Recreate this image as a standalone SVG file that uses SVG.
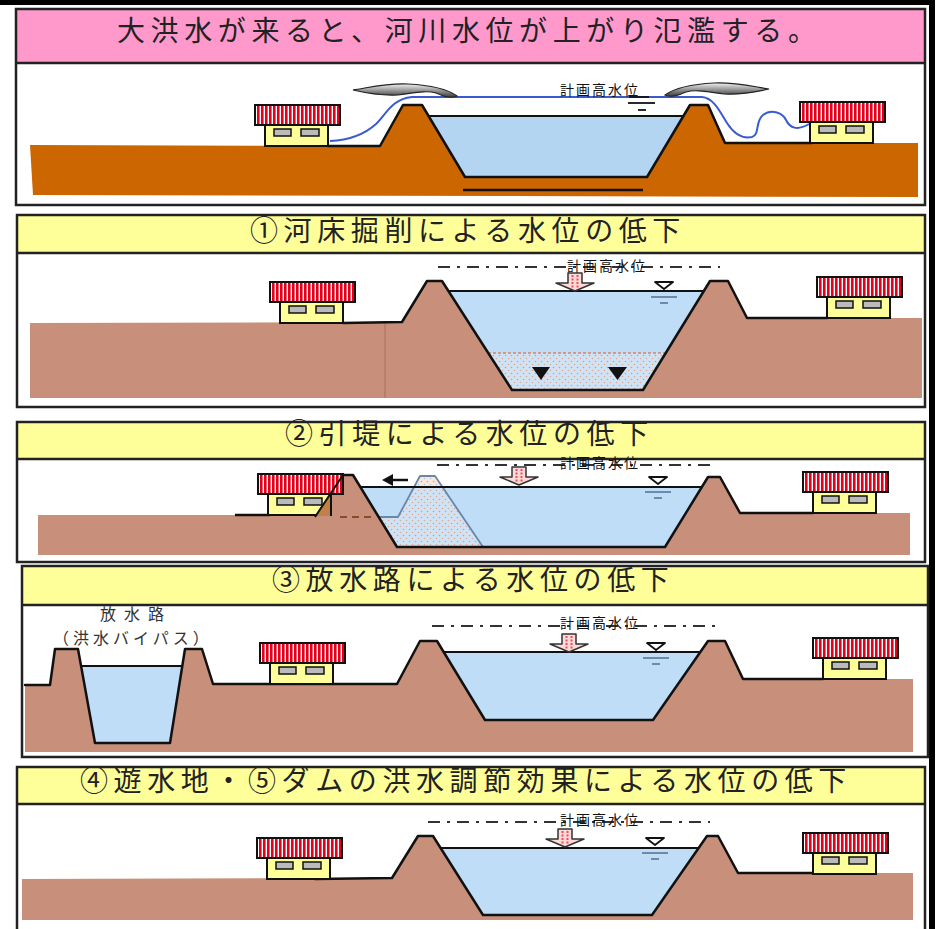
<svg xmlns="http://www.w3.org/2000/svg" width="938" height="929" viewBox="0 0 938 929">
<defs>
<style>
.frame{fill:none;stroke:#222;stroke-width:2.5}
.hdr-pink{fill:#FF99CC}
.hdr-yel{fill:#FFFF99}
.sep{stroke:#222;stroke-width:2.5}
.hdr-text{font-family:"Noto Sans CJK JP","Noto Sans CJK SC",sans-serif;font-size:28px;letter-spacing:5.6px;fill:#222}
.lbl{font-family:"Noto Sans CJK JP","Noto Sans CJK SC",sans-serif;font-size:14px;letter-spacing:2px;fill:#111}
.side{font-family:"Noto Sans CJK JP","Noto Sans CJK SC",sans-serif;font-size:16px;fill:#333}
.soil-top{fill:#CC6600}
.soil{fill:#C8907A}
.water-top{fill:#B3D5F2}
.water{fill:#BFDDF6}
.profile{fill:none;stroke:#111;stroke-width:2.5;stroke-linejoin:round;stroke-linecap:round}
.surface{stroke:#111;stroke-width:2}
.hwl{stroke:#333;stroke-width:2;stroke-dasharray:12 7 3 7}
.flood{fill:none;stroke:#3A5BD0;stroke-width:2}
</style>
<pattern id="roof" width="4" height="10" patternUnits="userSpaceOnUse">
<rect width="4" height="10" fill="#E3001B"/>
<rect x="2.6" width="1.4" height="10" fill="#FFFFFF"/>
</pattern>
<pattern id="dots-blue" width="6" height="6" patternUnits="userSpaceOnUse">
<rect width="6" height="6" fill="#CFE3F4"/>
<circle cx="1.5" cy="1.5" r="0.8" fill="#9AB0CA"/>
<circle cx="4.5" cy="4.5" r="0.8" fill="#E0A890"/>
</pattern>
<pattern id="dots-tan" width="6" height="6" patternUnits="userSpaceOnUse">
<rect width="6" height="6" fill="#FBE8DC"/>
<circle cx="1.5" cy="1.5" r="0.8" fill="#D89A80"/>
<circle cx="4.5" cy="4.5" r="0.8" fill="#B8C4D8"/>
</pattern>
<linearGradient id="swoosh" x1="0" y1="0" x2="0" y2="1">
<stop offset="0" stop-color="#F2F2F2"/>
<stop offset="1" stop-color="#3A3A3A"/>
</linearGradient>
<!-- house: origin at the bottom-left corner of the walls -->
<g id="house-tpl">
<rect x="-10" y="-41" width="85" height="20" fill="url(#roof)" stroke="#111" stroke-width="2"/>
<rect x="0" y="-21" width="63" height="21" fill="#FFFF99" stroke="#111" stroke-width="2"/>
<rect x="9" y="-17" width="17" height="7" fill="#BBBBBB" stroke="#111" stroke-width="1.5"/>
<rect x="36" y="-17" width="18" height="7" fill="#BBBBBB" stroke="#111" stroke-width="1.5"/>
</g>
<!-- lowering arrow: origin at top centre, tip 18px below -->
<g id="down-arrow">
<path d="M-7,0 H7 V10 H19 L0,18 L-19,10 H-7 Z" fill="#FFD8D8" stroke="#333" stroke-width="1.5" stroke-linejoin="round"/>
<line x1="-2.5" y1="2" x2="-2.5" y2="15" stroke="#E8505A" stroke-width="2" stroke-dasharray="2 1.5"/>
<line x1="2.5" y1="2" x2="2.5" y2="15" stroke="#E8505A" stroke-width="2" stroke-dasharray="2 1.5"/>
</g>
<!-- water-level sign: origin at the top centre of the triangle -->
<g id="wl-mark">
<path d="M-9,0 H9 L0,7 Z" fill="#FFFFFF" stroke="#111" stroke-width="1.8" stroke-linejoin="round"/>
<line x1="-13" y1="15" x2="13" y2="15" stroke="#6680A0" stroke-width="1.8"/>
<line x1="-4" y1="21" x2="4" y2="21" stroke="#6680A0" stroke-width="1.8"/>
</g>
<!-- overtopping swoosh, pointing left -->
<path id="swoosh-shape" d="M353,90 C372,87 388,83 408,84 C428,85 446,88 457,96 C450,99 443,96 436,93 C426,90 414,93 398,95 C380,96 366,93 353,90 Z"/>
</defs>

<rect width="938" height="929" fill="#FFFFFF"/>

<!-- outer border -->
<rect x="0" y="0" width="935" height="5" fill="#000"/>
<rect x="929" y="0" width="6" height="929" fill="#000"/>

<!-- ===== flooding ===== -->
<g id="panel-flood">
<rect x="16" y="9" width="909" height="54" class="hdr-pink"/>
<line x1="16" y1="63" x2="925" y2="63" class="sep"/>
<text x="117" y="41" class="hdr-text">大洪水が来ると、河川水位が上がり氾濫する。</text>
<path class="soil-top" d="M30,145 L380,146 L403,105 L422,105 L465,177 L647,177 L690,105 L708,105 L725,143 L918,143 L918,197 L33,195 Z"/>
<path class="water-top" d="M429,116 L683,116 L647,177 L465,177 Z"/>
<line x1="429" y1="116" x2="683" y2="116" class="surface"/>
<path class="profile" d="M328,146 L380,146 L403,105 L422,105 L465,177 L647,177 L690,105 L708,105 L725,143 L812,143"/>
<line x1="463" y1="190" x2="643" y2="190" stroke="#111" stroke-width="2.5"/>
<path class="flood" d="M330,141 C350,140 365,134 376,124 C387,113 392,99 412,97 L702,97 C714,98 720,112 727,123 C734,134 742,139 752,137 C760,135 755,121 763,115 C771,109 782,112 786,120 C790,128 797,131 809,124"/>
<use href="#swoosh-shape" fill="url(#swoosh)" stroke="#222" stroke-width="1.2"/>
<use href="#swoosh-shape" transform="translate(1122,-1) scale(-1,1)" fill="url(#swoosh)" stroke="#222" stroke-width="1.2"/>
<text x="560" y="95" class="lbl">計画高水位</text>
<line x1="629" y1="97" x2="649" y2="97" stroke="#111" stroke-width="1.8"/>
<line x1="628" y1="103" x2="655" y2="103" stroke="#111" stroke-width="1.8"/>
<line x1="638" y1="110" x2="646" y2="110" stroke="#111" stroke-width="1.8"/>
<g id="flood-house-left"><use href="#house-tpl" x="265" y="146"/></g>
<g id="flood-house-right"><use href="#house-tpl" x="810" y="143"/></g>
<rect x="16" y="9" width="909" height="196" class="frame"/>
</g>

<!-- ===== 1: riverbed excavation ===== -->
<g id="panel-excavation">
<rect x="17" y="215" width="908" height="38" class="hdr-yel"/>
<line x1="17" y1="253" x2="925" y2="253" class="sep"/>
<text x="250" y="241" class="hdr-text">①河床掘削による水位の低下</text>
<path class="soil" d="M30,323 L402,322 L427,281 L442,281 L512,390 L643,390 L710,281 L728,281 L747,318 L922,318 L922,398 L30,398 Z"/>
<line x1="385" y1="323" x2="385" y2="398" stroke="#A8705A" stroke-width="1"/>
<path class="water" d="M448,291 L704,291 L666,353 L488,353 Z"/>
<path fill="url(#dots-blue)" d="M488,353 L666,353 L643,390 L512,390 Z"/>
<line x1="488" y1="353" x2="666" y2="353" stroke="#E08060" stroke-width="1.5" stroke-dasharray="3 2"/>
<path d="M532,367 H550 L541,380 Z" fill="#111"/>
<path d="M608,367 H627 L617.5,380 Z" fill="#111"/>
<line x1="448" y1="291" x2="704" y2="291" class="surface"/>
<path class="profile" d="M343,323 L402,322 L427,281 L442,281 L512,390 L643,390 L710,281 L728,281 L747,318 L827,318"/>
<line x1="438" y1="267" x2="720" y2="267" class="hwl"/>
<text x="567" y="271" class="lbl">計画高水位</text>
<use href="#down-arrow" x="575" y="273"/>
<use href="#wl-mark" x="664" y="282"/>
<g id="excavation-house-left"><use href="#house-tpl" x="280" y="323"/></g>
<g id="excavation-house-right"><use href="#house-tpl" x="827" y="318"/></g>
<rect x="17" y="215" width="908" height="192" class="frame"/>
</g>

<!-- ===== 2: levee setback ===== -->
<g id="panel-setback">
<rect x="17" y="422" width="908" height="37" class="hdr-yel"/>
<line x1="17" y1="459" x2="925" y2="459" class="sep"/>
<text x="285" y="444" class="hdr-text">②引堤による水位の低下</text>
<path class="soil" d="M38,515 L315,515 L343,475 L353,475 L397,547 L665,547 L708,477 L720,477 L740,513 L910,513 L910,555 L38,555 Z"/>
<path class="water" d="M360,487 L702,487 L665,547 L397,547 Z"/>
<!-- old levee to be removed -->
<path fill="url(#dots-blue)" d="M398,517 L420,476 L435,476 L483,547 L397,547 L379,517 Z"/>
<path fill="url(#dots-tan)" d="M420,476 L435,476 L442.4,487 L414.1,487 Z"/>
<path d="M379,517 L398,517 L420,476 L435,476 L483,547" fill="none" stroke="#6A86A8" stroke-width="1.8" stroke-linejoin="round"/>
<line x1="360" y1="487" x2="702" y2="487" class="surface"/>
<line x1="340" y1="517" x2="375" y2="517" stroke="#8B4A2A" stroke-width="2" stroke-dasharray="7 5"/>
<path class="profile" d="M343,475 L353,475 L397,547 L665,547 L708,477 L720,477 L740,513 L813,513"/>
<line x1="235" y1="515" x2="270" y2="515" stroke="#111" stroke-width="2.5"/>
<line x1="437" y1="465" x2="717" y2="465" class="hwl"/>
<text x="560" y="468" class="lbl">計画高水位</text>
<use href="#down-arrow" x="519" y="467"/>
<use href="#wl-mark" x="658" y="477"/>
<g id="setback-house-left">
<use href="#house-tpl" x="268" y="515"/>
<path d="M315,516 L330,493 L330,516 Z" fill="#C08048"/>
<path d="M315,517 L343,475" fill="none" stroke="#111" stroke-width="2"/>
</g>
<g id="setback-house-right"><use href="#house-tpl" x="813" y="513"/></g>
<g id="setback-arrow">
<line x1="392" y1="480" x2="408" y2="480" stroke="#111" stroke-width="2.5"/>
<path d="M382,480 L393,474 L393,486 Z" fill="#111"/>
</g>
<rect x="17" y="422" width="908" height="140" class="frame"/>
</g>

<!-- ===== 3: floodway ===== -->
<g id="panel-floodway">
<rect x="22" y="566" width="906" height="39" class="hdr-yel"/>
<line x1="22" y1="605" x2="928" y2="605" class="sep"/>
<text x="272" y="590" class="hdr-text">③放水路による水位の低下</text>
<path class="soil" d="M25,685 L50,685 L55,649 L78,649 L95,743 L170,743 L185,649 L202,649 L213,684 L397,684 L420,641 L437,641 L485,720 L653,720 L708,641 L725,641 L743,679 L913,679 L913,752 L25,752 Z"/>
<path class="water" d="M81,666 L182,666 L170,743 L95,743 Z"/>
<line x1="81" y1="666" x2="182" y2="666" class="surface"/>
<path class="water" d="M444,652 L700,652 L653,720 L485,720 Z"/>
<line x1="444" y1="652" x2="700" y2="652" class="surface"/>
<path class="profile" d="M25,685 L50,685 L55,649 L78,649 L95,743 L170,743 L185,649 L202,649 L213,684 L397,684 L420,641 L437,641 L485,720 L653,720 L708,641 L725,641 L743,679 L823,679"/>
<text x="100" y="620" class="side" letter-spacing="8">放水路</text>
<text x="53" y="644" class="side" letter-spacing="4">（洪水バイパス）</text>
<line x1="432" y1="626" x2="715" y2="626" class="hwl"/>
<text x="560" y="628" class="lbl">計画高水位</text>
<use href="#down-arrow" x="569" y="634"/>
<use href="#wl-mark" x="656" y="643"/>
<g id="floodway-house-left"><use href="#house-tpl" x="270" y="684"/></g>
<g id="floodway-house-right"><use href="#house-tpl" x="823" y="679"/></g>
<rect x="22" y="566" width="906" height="191" class="frame"/>
</g>

<!-- ===== 4/5: retarding basin and dam ===== -->
<g id="panel-regulation">
<rect x="17" y="767" width="908" height="37" class="hdr-yel"/>
<line x1="17" y1="804" x2="925" y2="804" class="sep"/>
<text x="80" y="791" class="hdr-text">④遊水地・⑤ダムの洪水調節効果による水位の低下</text>
<path class="soil" d="M22,879 L392,878 L418,836 L433,836 L483,915 L652,915 L707,836 L718,836 L738,873 L913,873 L913,920 L22,920 Z"/>
<path class="water" d="M441,848 L699,848 L652,915 L483,915 Z"/>
<line x1="441" y1="848" x2="699" y2="848" class="surface"/>
<path class="profile" d="M315,879 L392,878 L418,836 L433,836 L483,915 L652,915 L707,836 L718,836 L738,873 L813,873"/>
<line x1="428" y1="822" x2="710" y2="822" class="hwl"/>
<text x="560" y="825" class="lbl">計画高水位</text>
<use href="#down-arrow" x="565" y="829"/>
<use href="#wl-mark" x="655" y="838"/>
<g id="regulation-house-left"><use href="#house-tpl" x="267" y="879"/></g>
<g id="regulation-house-right"><use href="#house-tpl" x="813" y="874"/></g>
<rect x="17" y="767" width="908" height="175" class="frame"/>
</g>
</svg>
